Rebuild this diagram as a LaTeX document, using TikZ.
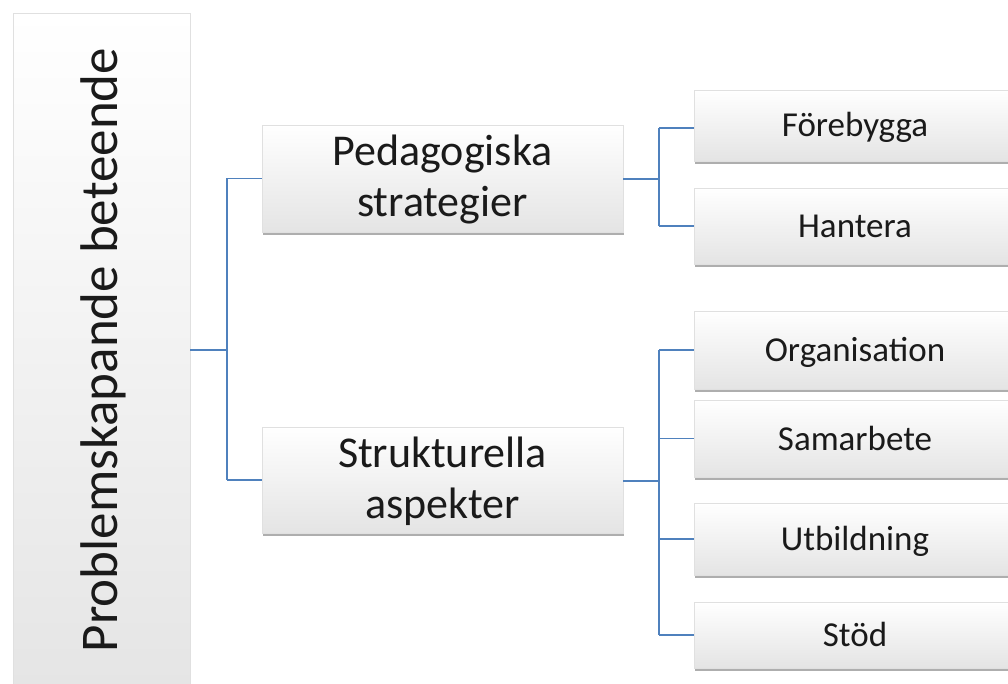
\documentclass[tikz,border=0pt]{standalone}
\usepackage{fontspec}
\setmainfont{Carlito}
\usetikzlibrary{shadows}
\definecolor{linkblue}{HTML}{4F81BD}
\definecolor{txt}{HTML}{1A1A1A}
\definecolor{boxbot}{HTML}{E4E4E4}
\begin{document}
\begin{tikzpicture}[x=1pt,y=-1pt,
  box/.style={draw=black!12, line width=0.6pt, top color=white, bottom color=boxbot,
    text=txt, inner sep=0pt, align=center,
    drop shadow={shadow xshift=1pt, shadow yshift=-3pt, opacity=0.45, fill=black!70}},
  midbox/.style={box, minimum width=361pt, font=\fontsize{44}{51}\selectfont, text height=77pt, text depth=0pt},
  leafbox/.style={box, minimum width=322pt, font=\fontsize{35}{42}\selectfont, text height=23pt, text depth=0pt},
  link/.style={draw=linkblue, line width=1.3pt}]
\useasboundingbox (0,0) rectangle (1008,684);
\clip (0,0) rectangle (1008,684);
% root
\node[box, minimum width=177pt, minimum height=700pt] (root) at (101.5,363) {};
\node[text=txt, font=\fontsize{53}{60}\selectfont, rotate=90, anchor=base, inner sep=0pt] (rootlabel) at (117,350) {Problemskapande beteende};
% middle level
\node[midbox, minimum height=107pt] (ped) at (442.5,178.5) {Pedagogiska\\strategier};
\node[midbox, minimum height=106pt] (str) at (442.5,480) {Strukturella\\aspekter};
% leaves
\node[leafbox, minimum height=71pt] (fore) at (855,125.5) {Förebygga};
\node[leafbox, minimum height=76pt] (hant) at (855,226) {Hantera};
\node[leafbox, minimum height=78pt] (org) at (855,350) {Organisation};
\node[leafbox, minimum height=77pt] (sam) at (855,438.5) {Samarbete};
\node[leafbox, minimum height=72pt] (utb) at (855,539) {Utbildning};
\node[leafbox, minimum height=66pt] (stod) at (855,635) {Stöd};
% junctions
\coordinate (j0) at (227,350);
\coordinate (j1) at (659,179);
\coordinate (j2) at (659,481);
\coordinate (jf) at (659,128);
% connectors
\draw[link] (root.east |- j0) -- (j0);
\draw[link] (j0 |- ped.west) -- (ped.west);
\draw[link] (j0 |- str.west) -- (str.west);
\draw[link] (j0 |- ped.west) -- (j0 |- str.west);
\draw[link] (ped.east |- j1) -- (j1);
\draw[link] (jf) -- (jf -| fore.west);
\draw[link] (j1 |- hant.west) -- (hant.west);
\draw[link] (jf) -- (j1 |- hant.west);
\draw[link] (str.east |- j2) -- (j2);
\draw[link] (j2 |- org.west) -- (org.west);
\draw[link] (j2 |- sam.west) -- (sam.west);
\draw[link] (j2 |- utb.west) -- (utb.west);
\draw[link] (j2 |- stod.west) -- (stod.west);
\draw[link] (j2 |- org.west) -- (j2 |- stod.west);
\end{tikzpicture}
\end{document}
